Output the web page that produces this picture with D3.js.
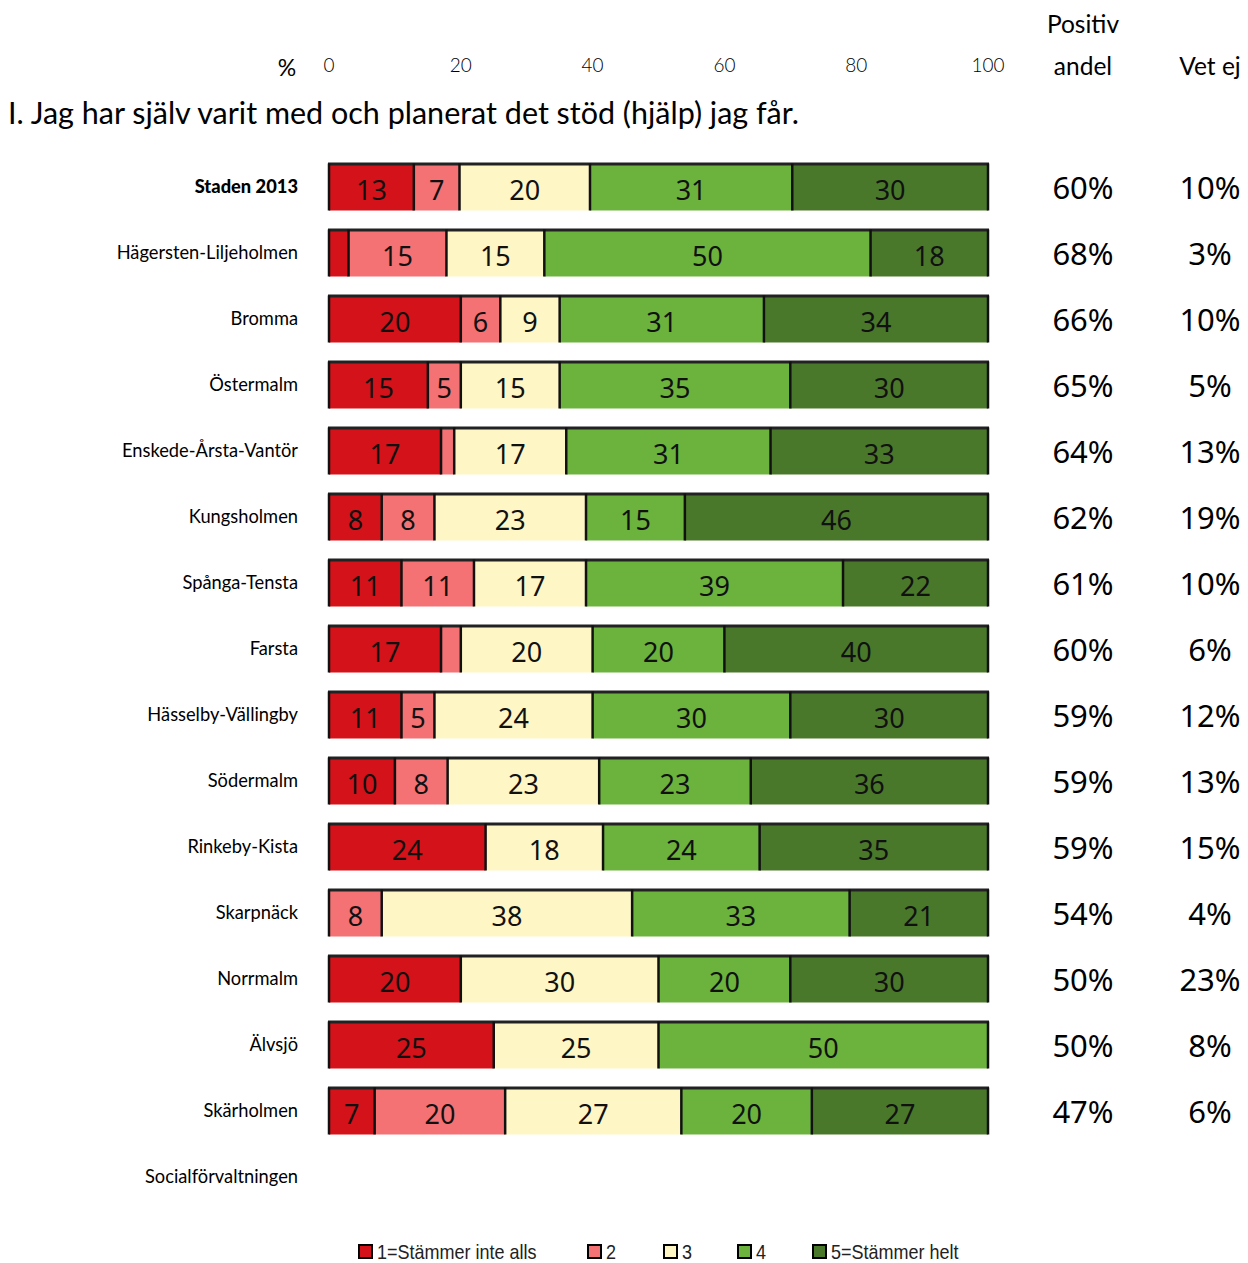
<!DOCTYPE html>
<html>
<head>
<meta charset="utf-8">
<script src="https://cdn.jsdelivr.net/npm/d3@7"></script>
<style>
  html, body { margin: 0; padding: 0; background: #fff; }
  svg { display: block; }
</style>
</head>
<body>
<svg id="chart" width="1248" height="1263"></svg>
<script>
const categories = ["Staden 2013","Hägersten-Liljeholmen","Bromma","Östermalm","Enskede-Årsta-Vantör","Kungsholmen","Spånga-Tensta","Farsta","Hässelby-Vällingby","Södermalm","Rinkeby-Kista","Skarpnäck","Norrmalm","Älvsjö","Skärholmen","Socialförvaltningen"];
const s1 = [13, 3, 20, 15, 17, 8, 11, 17, 11, 10, 24, 0, 20, 25, 7, null];
const s2 = [7, 15, 6, 5, 2, 8, 11, 3, 5, 8, 0, 8, 0, 0, 20, null];
const s3 = [20, 15, 9, 15, 17, 23, 17, 20, 24, 23, 18, 38, 30, 25, 27, null];
const s4 = [31, 50, 31, 35, 31, 15, 39, 20, 30, 23, 24, 33, 20, 50, 20, null];
const s5 = [30, 18, 34, 30, 33, 46, 22, 40, 30, 36, 35, 21, 30, 0, 27, null];
const positiv = ["60%","68%","66%","65%","64%","62%","61%","60%","59%","59%","59%","54%","50%","50%","47%",""];
const vetEj = ["10%","3%","10%","5%","13%","19%","10%","6%","12%","13%","15%","4%","23%","8%","6%",""];
const seriesNames = ["1=Stämmer inte alls","2","3","4","5=Stämmer helt"];
const seriesColors = ["#D31219","#F47174","#FFF6C5","#6BB33C","#4A782B"];
const xTicks = [0, 20, 40, 60, 80, 100];
const title = "I. Jag har själv varit med och planerat det stöd (hjälp) jag får.";

const svg = d3.select("#chart");
const x = d3.scaleLinear().domain([0, 100]).range([329, 988]);
const y = d3.scaleBand().domain(categories).range([154, 1210]).paddingInner(0.288).paddingOuter(0.144);

const numFont = "'Noto Sans', 'DejaVu Sans', sans-serif";
const labFont = "Lato, 'Open Sans', sans-serif";

// axis tick labels
svg.append("g").selectAll("text").data(xTicks).join("text")
  .attr("x", d => x(d)).attr("y", 72)
  .attr("text-anchor", "middle")
  .attr("font-family", labFont).attr("font-size", 19).attr("font-weight", 300)
  .attr("fill", "#000").text(d => d);
svg.append("text").attr("x", 287).attr("y", 76).attr("text-anchor", "middle")
  .attr("font-family", labFont).attr("font-size", 23).text("%");

// column headers
svg.append("text").attr("x", 1083).attr("y", 33).attr("text-anchor", "middle")
  .attr("font-family", labFont).attr("font-size", 24.5).text("Positiv");
svg.append("text").attr("x", 1083).attr("y", 75).attr("text-anchor", "middle")
  .attr("font-family", labFont).attr("font-size", 24.5).text("andel");
svg.append("text").attr("x", 1210).attr("y", 75).attr("text-anchor", "middle")
  .attr("font-family", labFont).attr("font-size", 24.5).text("Vet ej");

// title
svg.append("text").attr("x", 8).attr("y", 124)
  .attr("font-family", labFont).attr("font-size", 30.5).text(title);

// category labels
svg.append("g").selectAll("text").data(categories).join("text")
  .attr("x", 298).attr("y", d => y(d) + y.bandwidth() / 2 + 6)
  .attr("text-anchor", "end")
  .attr("font-family", labFont).attr("font-size", 18.3)
  .attr("font-weight", (d, i) => i === 0 ? 900 : 400)
  .text(d => d);

// bars
const seriesArr = [s1, s2, s3, s4, s5];
const rows = categories.map((c, i) => {
  const vals = seriesArr.map(s => s[i]);
  if (vals[0] == null) return null;
  const total = d3.sum(vals);
  let cum = 0;
  const segs = vals.map((v, k) => {
    const seg = { cat: c, k, v, x0: cum / total * 100, x1: (cum + v) / total * 100 };
    cum += v;
    return seg;
  });
  return { cat: c, segs };
}).filter(r => r);

const bars = svg.append("g");
rows.forEach(r => {
  const g = bars.append("g");
  const y0 = y(r.cat), h = y.bandwidth();
  const segs = r.segs.filter(s => s.v > 0);
  g.selectAll("rect").data(segs).join("rect")
    .attr("x", s => x(s.x0)).attr("y", y0)
    .attr("width", s => x(s.x1) - x(s.x0)).attr("height", h)
    .attr("fill", s => seriesColors[s.k]);
  // top border
  g.append("line").attr("x1", x(0) - 1).attr("x2", x(100) + 1)
    .attr("y1", y0 + 0.5).attr("y2", y0 + 0.5)
    .attr("stroke", "#222").attr("stroke-width", 3);
  // vertical separators
  const bounds = [0].concat(segs.map(s => s.x1));
  g.selectAll("line.v").data(bounds).join("line").attr("class", "v")
    .attr("x1", b => x(b)).attr("x2", b => x(b))
    .attr("y1", y0).attr("y2", y0 + h)
    .attr("stroke", "#111").attr("stroke-width", 2.5);
  g.selectAll("text").data(segs.filter(s => s.v >= 5)).join("text")
    .attr("x", s => (x(s.x0) + x(s.x1)) / 2)
    .attr("y", y0 + h / 2 + 13)
    .attr("text-anchor", "middle")
    .attr("font-family", numFont).attr("font-size", 27).attr("font-weight", 400)
    .attr("fill", "#111").text(s => s.v);
});

// right columns
svg.append("g").selectAll("text").data(positiv).join("text")
  .attr("x", 1083).attr("y", (d, i) => y(categories[i]) + y.bandwidth() / 2 + 12)
  .attr("text-anchor", "middle")
  .attr("font-family", numFont).attr("font-size", 31).attr("font-weight", 400)
  .text(d => d);
svg.append("g").selectAll("text").data(vetEj).join("text")
  .attr("x", 1210).attr("y", (d, i) => y(categories[i]) + y.bandwidth() / 2 + 12)
  .attr("text-anchor", "middle")
  .attr("font-family", numFont).attr("font-size", 31).attr("font-weight", 400)
  .text(d => d);

// legend
const legendX = [358, 587, 663, 737, 812];
const lg = svg.append("g");
seriesNames.forEach((n, i) => {
  lg.append("rect").attr("x", legendX[i] + 1).attr("y", 1245).attr("width", 13).attr("height", 13)
    .attr("fill", seriesColors[i]).attr("stroke", "#000").attr("stroke-width", 2);
  const tx = legendX[i] + 19;
  lg.append("text").attr("x", 0).attr("y", 0)
    .attr("transform", `translate(${tx},1259) scale(0.9,1)`)
    .attr("font-family", "'Liberation Sans Narrow', 'Arial Narrow', 'Liberation Sans', sans-serif")
    .attr("font-size", 20).attr("fill", "#222").text(n);
});
</script>
</body>
</html>
